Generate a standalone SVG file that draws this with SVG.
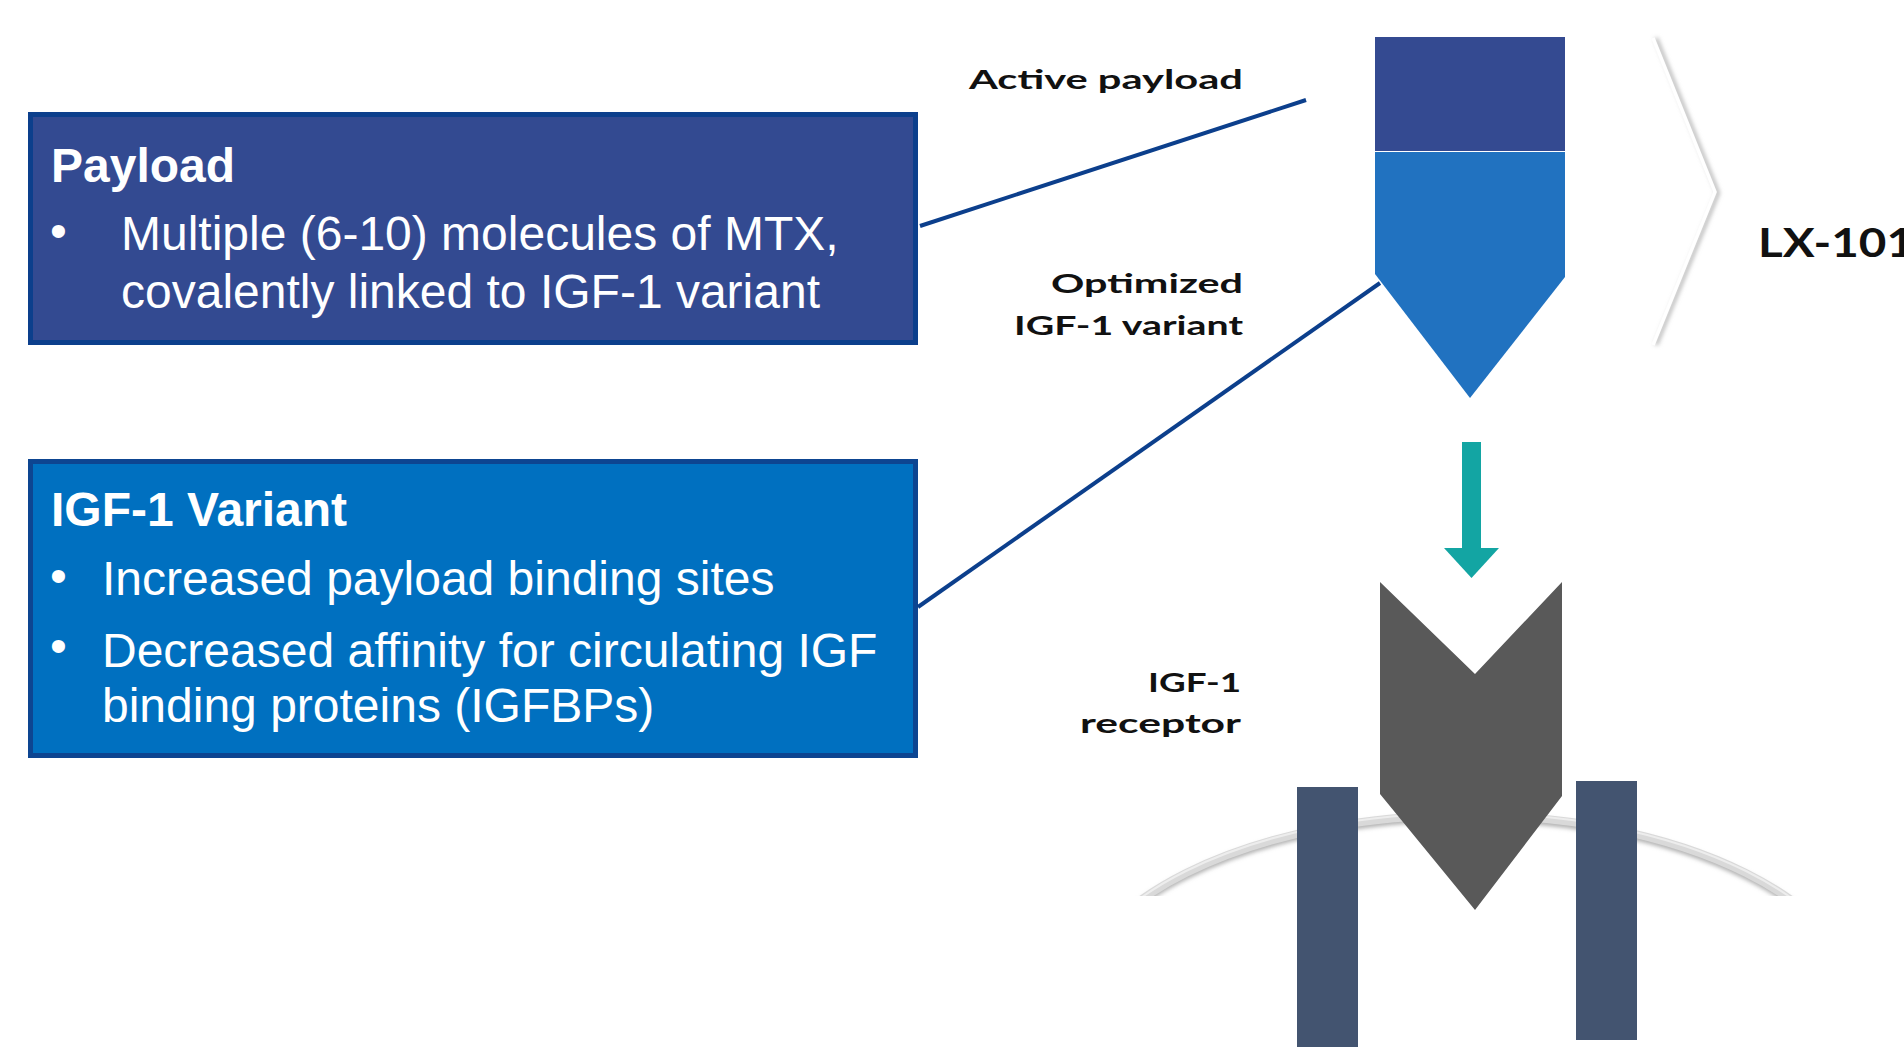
<svg xmlns="http://www.w3.org/2000/svg" width="1904" height="1047" viewBox="0 0 1904 1047">
<style>
.box-title{font-family:"Liberation Sans",Arial,sans-serif;font-weight:bold;font-size:48px;fill:#fff}
.box-text{font-family:"Liberation Sans",Arial,sans-serif;font-size:48px;fill:#fff}
.lbl{font-family:Lato,"Noto Sans",sans-serif;font-weight:bold;font-size:27px;fill:#111;text-anchor:end}
.conn{stroke:#0c3f8c;stroke-width:4;fill:none}
</style>
<defs>
<clipPath id="membraneClip"><rect x="0" y="0" width="1904" height="896"/></clipPath>
<filter id="soft" x="-20%" y="-20%" width="140%" height="140%"><feGaussianBlur stdDeviation="2"/></filter>
</defs>
<rect width="1904" height="1047" fill="#fff"/>

<g id="node-payload-box">
<rect x="30.5" y="114.5" width="885" height="228" fill="#334a91" stroke="#0c3f8c" stroke-width="5"/>
<text class="box-title" x="51" y="182">Payload</text>
<text class="box-text" x="50" y="247">•</text>
<text class="box-text" x="121" y="250">Multiple (6-10) molecules of MTX,</text>
<text class="box-text" x="121" y="308">covalently linked to IGF-1 variant</text>
</g>

<g id="node-igf-box">
<rect x="30.5" y="461.5" width="885" height="294" fill="#0070c0" stroke="#0d4591" stroke-width="5"/>
<text class="box-title" x="51" y="526">IGF-1 Variant</text>
<text class="box-text" x="50" y="592">•</text>
<text class="box-text" x="102" y="595">Increased payload binding sites</text>
<text class="box-text" x="50" y="662">•</text>
<text class="box-text" x="102" y="667">Decreased affinity for circulating IGF</text>
<text class="box-text" x="102" y="722">binding proteins (IGFBPs)</text>
</g>

<g id="connectors">
<line class="conn" x1="920" y1="226" x2="1306" y2="100"/>
<line class="conn" x1="918" y1="607" x2="1380" y2="283"/>
</g>

<g id="node-labels">
<text class="lbl" x="1243" y="89" textLength="274" lengthAdjust="spacingAndGlyphs">Active payload</text>
<text class="lbl" x="1243" y="293" textLength="192" lengthAdjust="spacingAndGlyphs">Optimized</text>
<text class="lbl" x="1243" y="335" textLength="229" lengthAdjust="spacingAndGlyphs">IGF-1 variant</text>
<text class="lbl" x="1241" y="692" textLength="93" lengthAdjust="spacingAndGlyphs">IGF-1</text>
<text class="lbl" x="1241" y="733" textLength="161" lengthAdjust="spacingAndGlyphs">receptor</text>
</g>

<g id="node-lx101">
<rect x="1375" y="37" width="190" height="114" fill="#344a91"/>
<path d="M1375 152 H1565 V277 L1470 398 L1375 274 Z" fill="#2172c0"/>
<polyline points="1656,38 1718,193 1656,345" fill="none" stroke="#b8b8b8" stroke-width="4" filter="url(#soft)"/>
<polyline points="1653,38 1715,192 1653,345" fill="none" stroke="#fff" stroke-width="3.5"/>
<text x="1758" y="257" font-family="Lato,'Liberation Sans',sans-serif" font-weight="bold" font-size="40" fill="#111" textLength="156" lengthAdjust="spacingAndGlyphs">LX-101</text>
</g>

<g id="node-arrow">
<rect x="1462" y="442" width="19" height="108" fill="#13a5a3"/>
<polygon points="1444,548 1499,548 1471.5,578" fill="#13a5a3"/>
</g>

<g id="node-receptor">
<g clip-path="url(#membraneClip)">
<ellipse cx="1466" cy="1016" rx="396" ry="198" fill="none" stroke="#b0b0b0" stroke-width="7" filter="url(#soft)"/>
<ellipse cx="1466" cy="1013" rx="396" ry="198" fill="none" stroke="#d9d9d9" stroke-width="8"/>
<ellipse cx="1466" cy="1011" rx="396" ry="198" fill="none" stroke="#ededed" stroke-width="2"/>
</g>
<rect x="1297" y="787" width="61" height="260" fill="#435470"/>
<rect x="1576" y="781" width="61" height="259" fill="#435470"/>
<polygon points="1380,582 1475,674 1562,582 1562,796 1475,910 1380,794" fill="#595959"/>
</g>
</svg>
